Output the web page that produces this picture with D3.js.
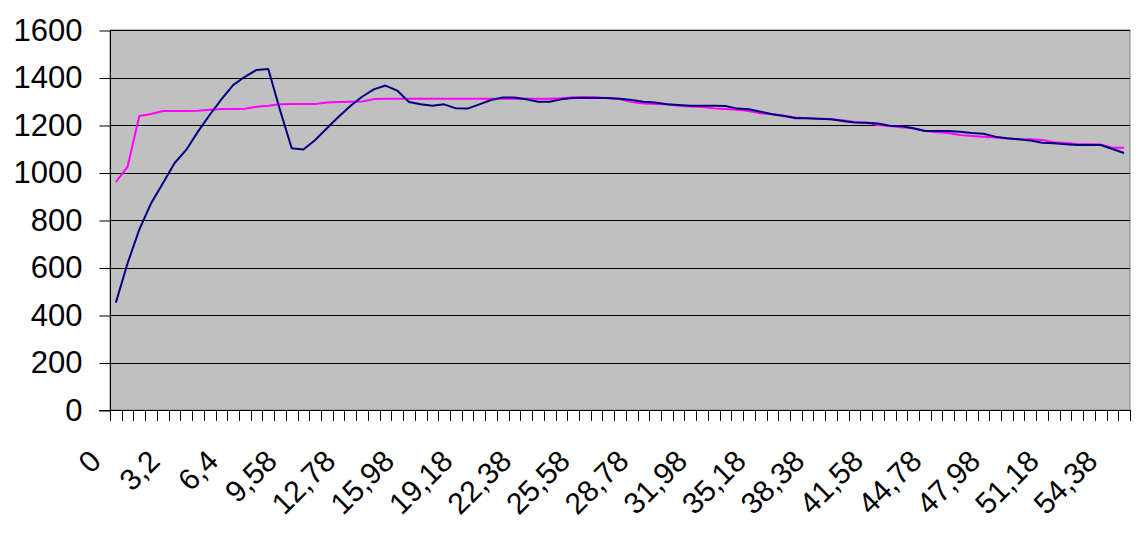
<!DOCTYPE html>
<html>
<head>
<meta charset="utf-8">
<script src="https://cdn.jsdelivr.net/npm/d3@7"></script>
<style>
  html, body { margin: 0; padding: 0; background: #fff; }
  svg { display: block; }
  text { font-family: "Liberation Sans", Arial, sans-serif; fill: #000; }
</style>
</head>
<body>
<svg id="chart" width="1139" height="540"></svg>
<script>
const categories = [
  "0","0,64","1,28","1,92","2,56","3,2","3,84","4,48","5,12","5,76",
  "6,4","7,04","7,68","8,32","8,96","9,58","10,22","10,86","11,5","12,14",
  "12,78","13,42","14,06","14,7","15,34","15,98","16,62","17,26","17,9","18,54",
  "19,18","19,82","20,46","21,1","21,74","22,38","23,02","23,66","24,3","24,94",
  "25,58","26,22","26,86","27,5","28,14","28,78","29,42","30,06","30,7","31,34",
  "31,98","32,62","33,26","33,9","34,54","35,18","35,82","36,46","37,1","37,74",
  "38,38","39,02","39,66","40,3","40,94","41,58","42,22","42,86","43,5","44,14",
  "44,78","45,42","46,06","46,7","47,34","47,98","48,62","49,26","49,9","50,54",
  "51,18","51,82","52,46","53,1","53,74","54,38","55,02"
];

const seriesNavy = [
  452, 618, 760, 870, 954, 1039, 1095, 1172, 1242, 1308,
  1368, 1403, 1432, 1436, 1263, 1102, 1097, 1137, 1186, 1235,
  1280, 1319, 1350, 1366, 1345, 1297, 1287, 1281, 1287, 1270,
  1269, 1287, 1305, 1316, 1316, 1308, 1298, 1298, 1308, 1314,
  1314, 1314, 1314, 1311, 1305, 1298, 1295, 1287, 1284, 1281,
  1281, 1281, 1280, 1269, 1266, 1256, 1245, 1238, 1228, 1228,
  1226, 1224, 1217, 1211, 1209, 1206, 1197, 1196, 1186, 1175,
  1175, 1175, 1172, 1166, 1163, 1151, 1144, 1140, 1135, 1125,
  1123, 1119, 1116, 1116, 1116, 1099, 1082
];

const seriesMagenta = [
  960, 1024, 1238, 1246, 1259, 1259, 1259, 1260, 1264, 1267,
  1267, 1268, 1277, 1281, 1287, 1288, 1288, 1288, 1295, 1297,
  1298, 1299, 1309, 1311, 1311, 1311, 1311, 1311, 1311, 1311,
  1311, 1311, 1311, 1311, 1311, 1311, 1311, 1311, 1313, 1317,
  1318, 1317, 1313, 1308, 1297, 1291, 1288, 1287, 1281, 1278,
  1276, 1270, 1267, 1264, 1259, 1249, 1245, 1239, 1232, 1228,
  1225, 1224, 1220, 1213, 1209, 1200, 1196, 1190, 1186, 1176,
  1169, 1166, 1158, 1154, 1151, 1147, 1143, 1140, 1140, 1137,
  1127, 1124, 1120, 1119, 1118, 1104, 1104
];

const yTicks = [0, 200, 400, 600, 800, 1000, 1200, 1400, 1600];
const labelEvery = 5;

(function () {
const svg = d3.select("#chart");
const pLeft = 110, pRight = 1130, pTop = 30, pBottom = 410;

const x = d3.scaleBand().domain(categories).range([pLeft, pRight]).padding(0);
const y = d3.scaleLinear().domain([0, 1600]).range([pBottom, pTop]);
const bw = x.bandwidth();

// plot area background
svg.append("rect")
  .attr("x", pLeft).attr("y", pTop)
  .attr("width", pRight - pLeft).attr("height", pBottom - pTop)
  .attr("fill", "#c0c0c0")
  .attr("stroke", "#808080").attr("stroke-width", 1);

// gridlines
svg.append("g").selectAll("line")
  .data(yTicks.filter(d => d > 0))
  .join("line")
  .attr("x1", pLeft).attr("x2", pRight)
  .attr("y1", d => Math.round(y(d)) + 0.5).attr("y2", d => Math.round(y(d)) + 0.5)
  .attr("stroke", "#000").attr("stroke-width", 1);

// Y axis
const yAxis = d3.axisLeft(y).tickValues(yTicks).tickSize(11).tickPadding(17).tickFormat(d3.format("d"));
const gy = svg.append("g").attr("transform", `translate(${pLeft + 0.5},0.5)`).call(yAxis);
gy.select(".domain").attr("stroke", "#000").attr("d", `M0,${pTop - 0.5}V${pBottom - 0.5}`);
gy.selectAll(".tick line").attr("stroke", "#000");
gy.selectAll(".tick text").style("font-size", "31px").style("font-family", "'Liberation Sans', Arial, sans-serif").attr("fill", "#000");

// X axis line
svg.append("line")
  .attr("x1", pLeft - 11).attr("x2", pRight)
  .attr("y1", pBottom + 0.5).attr("y2", pBottom + 0.5)
  .attr("stroke", "#000").attr("stroke-width", 1);

// X ticks at category boundaries
const boundaries = categories.map(c => x(c)).concat([x(categories[categories.length - 1]) + bw]);
svg.append("g").selectAll("line")
  .data(boundaries)
  .join("line")
  .attr("x1", d => Math.round(d) + 0.5).attr("x2", d => Math.round(d) + 0.5)
  .attr("y1", pBottom).attr("y2", pBottom + 11)
  .attr("stroke", "#000").attr("stroke-width", 1);

// X labels
svg.append("g").selectAll("text")
  .data(categories.filter((c, i) => i % labelEvery === 0))
  .join("text")
  .attr("transform", d => `translate(${x(d) + bw / 2 - 13},${pBottom + 53}) rotate(-45)`)
  .attr("text-anchor", "end")
  .style("font-size", "30px")
  .text(d => d);

// lines
const line = d3.line()
  .x((d, i) => x(categories[i]) + bw / 2)
  .y(d => y(d));

svg.append("path").datum(seriesMagenta)
  .attr("d", line).attr("fill", "none")
  .attr("stroke", "#ff00ff").attr("stroke-width", 2).attr("stroke-linejoin", "round");

svg.append("path").datum(seriesNavy)
  .attr("d", line).attr("fill", "none")
  .attr("stroke", "#000080").attr("stroke-width", 2).attr("stroke-linejoin", "round");
})();
</script>
</body>
</html>
